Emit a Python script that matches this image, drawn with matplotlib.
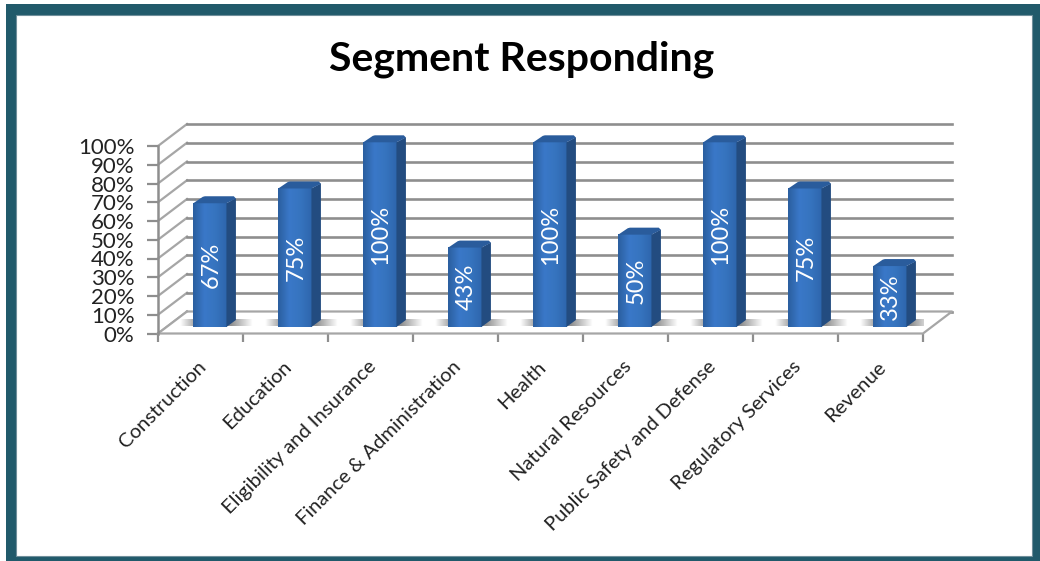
import numpy as np
import matplotlib
matplotlib.use("Agg")
import matplotlib.pyplot as plt
from matplotlib.patches import Rectangle, Polygon
from matplotlib.colors import LinearSegmentedColormap

# Chart data
categories = ["Construction", "Education", "Eligibility and Insurance", "Finance & Administration",
              "Health", "Natural Resources", "Public Safety and Defense", "Regulatory Services", "Revenue"]
values = [67, 75, 100, 43, 100, 50, 100, 75, 33]
value_labels = ["67%", "75%", "100%", "43%", "100%", "50%", "100%", "75%", "33%"]
y_ticks = [0, 10, 20, 30, 40, 50, 60, 70, 80, 90, 100]
y_tick_labels = ["0%", "10%", "20%", "30%", "40%", "50%", "60%", "70%", "80%", "90%", "100%"]

plt.rcParams['font.family'] = ['Lato', 'DejaVu Sans']

W, H = 1040, 561
fig = plt.figure(figsize=(W/100, H/100), dpi=100, facecolor='white')

# Teal frame
fig.add_artist(Rectangle((6/W, 0), (W-6)/W, (H-4)/H, transform=fig.transFigure, fc='#215a6b', ec='none', zorder=-3))
fig.add_artist(Rectangle((16/W, (H-556)/H), (1032-16)/W, (556-15)/H, transform=fig.transFigure, fc='white', ec='#6f8f9b', lw=0.8, zorder=-2))

# Axes covers the front plane of the 3D box
ax = fig.add_axes([158/W, (H-333.5)/H, 765/W, 187.5/H])
ax.patch.set_visible(False)
for s in ax.spines.values():
    s.set_visible(False)
ax.set_xlim(0, 9)
ax.set_ylim(0, 100)

# Depth of the box, in data units
depth_x = 29/85
depth_y = 22/1.875
grid_col = '#8e8e8e'

# Walls and floor
for t in y_ticks:
    ax.plot([0, depth_x], [t, t+depth_y], color='#a6a6a6', lw=1.6, clip_on=False, zorder=1)
    ax.plot([depth_x, 9+depth_x], [t+depth_y, t+depth_y], color=grid_col, lw=1.9, clip_on=False, zorder=1)
ax.add_patch(Polygon([[0, 0], [9, 0], [9+depth_x, depth_y], [depth_x, depth_y]], closed=True, fc='white', ec='none', zorder=1.5, clip_on=False))
ax.plot([0, 9, 9+depth_x, depth_x], [0, 0, depth_y, depth_y], color='#a6a6a6', lw=1.6, clip_on=False, zorder=1.6)
ax.plot([0, depth_x], [0, depth_y], color='#a6a6a6', lw=1.6, clip_on=False, zorder=1.6)
ax.plot([0, 0], [0, 100], color='#8e8e8e', lw=1.8, clip_on=False, zorder=2)

# Bars
bar_left = 0.415
bar_w = 0.39
bar_dx = 9.5/85
bar_dy = 7/1.875
bar_base = 6.5/1.875
bar_scale = 0.985
cut = 0.025

front_cmap = LinearSegmentedColormap.from_list('front', ['#2b5f9f', '#3a78c8', '#3674bf', '#2e66ad'])
shadow = np.zeros((1, 100, 4))
shadow[:, :, :3] = 0.42
shadow[0, :, 3] = np.concatenate([np.linspace(0, 0.75, 25), np.full(45, 0.75), np.linspace(0.75, 0, 30)])

for i, v in enumerate(values):
    x0 = i + bar_left
    x1 = x0 + bar_w
    y0 = bar_base
    y1 = y0 + v*bar_scale

    # Floor shadow
    ax.imshow(shadow, extent=[x0-0.16, x1+0.3, y0+0.6, y0+bar_dy+0.4], aspect='auto', zorder=2.2, interpolation='bilinear')

    # Front face with a horizontal gradient
    im = ax.imshow(np.linspace(0, 1, 64).reshape(1, -1), extent=[x0, x1, y0, y1], cmap=front_cmap,
                   aspect='auto', zorder=3, interpolation='bilinear')
    im.set_clip_box(fig.bbox)

    # Side face
    ax.add_patch(Polygon([[x1, y0], [x1+bar_dx, y0+bar_dy], [x1+bar_dx, y1+bar_dy-1], [x1, y1]],
                         closed=True, fc='#234c80', ec='none', zorder=3, clip_on=False))
    # Top face with the corners cut
    ax.add_patch(Polygon([[x0, y1], [x1, y1], [x1+bar_dx, y1+bar_dy-1.2], [x1+bar_dx-cut, y1+bar_dy],
                          [x0+bar_dx+cut, y1+bar_dy], [x0+bar_dx, y1+bar_dy-0.3]],
                         closed=True, fc='#2a5c9c', ec='none', zorder=3.1, clip_on=False))

    ax.text((x0+x1)/2+0.012, (y0+y1)/2, value_labels[i], color='white', fontsize=17, rotation=90,
            ha='center', va='center', zorder=4)

ax.set_xlim(0, 9)
ax.set_ylim(0, 100)

# Axes ticks
ax.set_yticks(y_ticks)
ax.set_yticklabels(y_tick_labels, fontsize=16, color='#222222')
ax.tick_params(axis='y', length=8, width=1.6, color='#8e8e8e', pad=9)
ax.set_xticks(np.arange(0, 10))
ax.set_xticklabels([])
ax.tick_params(axis='x', length=6, width=1.6, color='#8e8e8e')

# Rotated category labels
for i, c in enumerate(categories):
    ax.annotate(c, xy=(i+0.5, 0), xytext=(2, -22), textcoords='offset points', rotation=45,
                ha='right', va='center', rotation_mode='anchor', fontsize=14.5, color='#222222', annotation_clip=False)

fig.text(522/W, (H-59)/H, "Segment Responding", fontsize=29.5, fontweight='bold', ha='center', va='center', color='black')

plt.savefig("out.png", dpi=100)
